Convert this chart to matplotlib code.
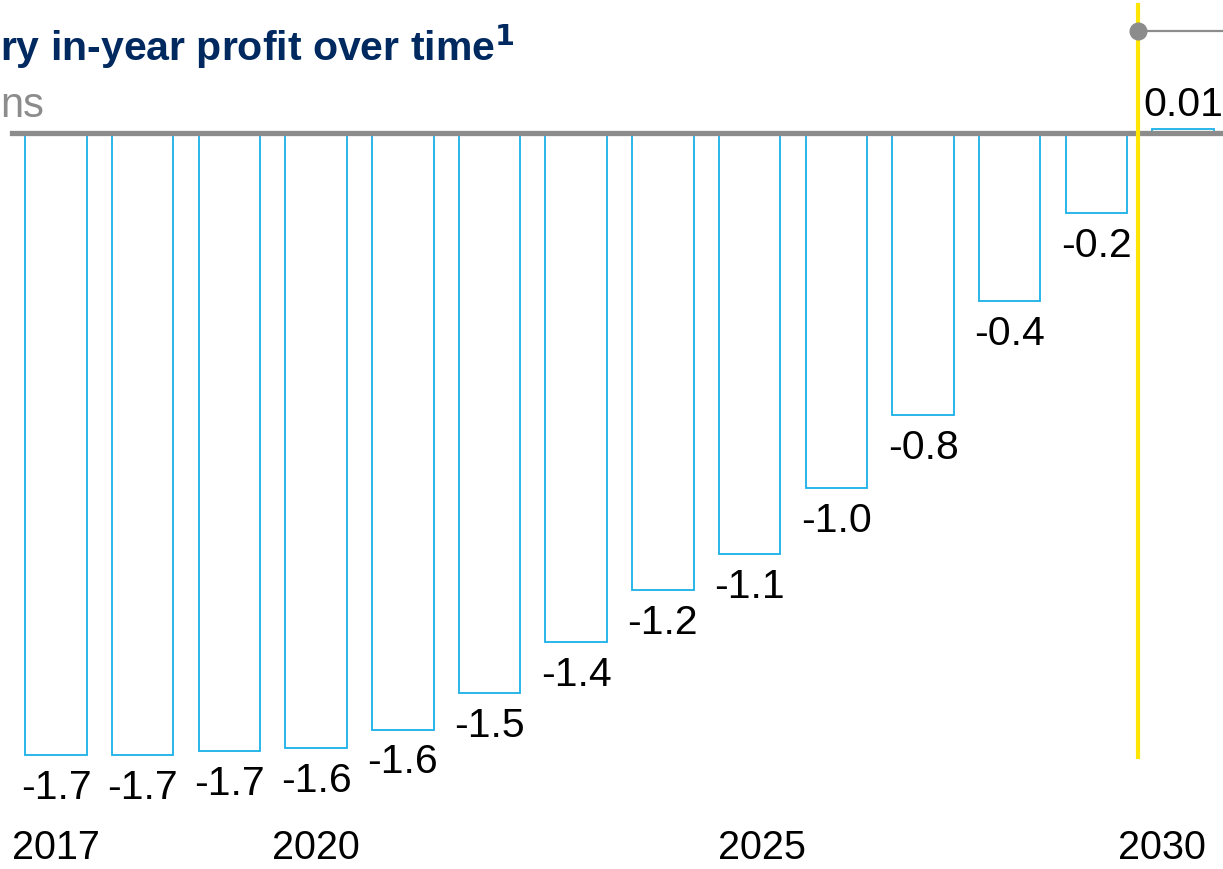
import matplotlib.pyplot as plt
import numpy as np

years = [2017, 2018, 2019, 2020, 2021, 2022, 2023, 2024, 2025, 2026, 2027, 2028, 2029, 2030]
profit = [-1.70, -1.70, -1.69, -1.68, -1.63, -1.53, -1.39, -1.25, -1.15, -0.97, -0.77, -0.46, -0.22, 0.01]
value_labels = ["-1.7", "-1.7", "-1.7", "-1.6", "-1.6", "-1.5", "-1.4", "-1.2", "-1.1", "-1.0",
                "-0.8", "-0.4", "-0.2", "0.01"]
tick_years = [2017, 2020, 2025, 2030]
tick_shift = {2017: 0.0, 2020: 0.0, 2025: 0.14, 2030: -0.25}  # label nudges as in the source

plt.rcParams["font.family"] = ["Liberation Sans", "DejaVu Sans"]

fig = plt.figure(figsize=(12.23, 8.69), dpi=100)
ax = fig.add_axes([0, 0, 1, 1])
ax.set_xlim(2016.354, 2030.46)
ax.set_ylim(-2.011, 0.363)
ax.axis("off")

blue = "#1AB0E8"
ax.bar(years, profit, width=0.71, facecolor="white", edgecolor=blue, linewidth=1.3, zorder=2)

# zero line
ax.axhline(0, xmin=12 / 1223, xmax=1, color="#8C8C8C", linewidth=3.8, zorder=3)

for yr, v, lab in zip(years, profit, value_labels):
    if v < 0:
        ax.annotate(lab, (yr, v), xytext=(0, -10), textcoords="offset points",
                    ha="center", va="top", fontsize=29.5, color="black")
    else:
        ax.annotate(lab, (yr, v), xytext=(0, 4), textcoords="offset points",
                    ha="center", va="bottom", fontsize=29.5, color="black")

for yr in tick_years:
    ax.text(yr + tick_shift[yr], -1.985, str(yr), ha="center", va="baseline",
            fontsize=28.5, color="black")

# forecast marker
ax.plot([2029.48, 2029.48], [-1.705, 0.35], color="#FFE500", linewidth=3, zorder=4)
ax.plot([2029.48, 2030.46], [0.279, 0.279], color="#8C8C8C", linewidth=1.6, zorder=5)
ax.plot([2029.48], [0.279], "o", color="#8C8C8C", markersize=12, zorder=6)

fig.text(0.0, 869 - 61, "ry in-year profit over time$^{\\mathbf{1}}$", transform=None,
         fontsize=29.5, fontweight="bold", color="#002960", ha="left", va="baseline",
         family=["Liberation Sans Narrow", "Liberation Sans", "DejaVu Sans"])
fig.text(0, 869 - 117, "ns", transform=None, fontsize=30, color="#8C8C8C",
         ha="left", va="baseline")

fig.savefig("out.png", dpi=100)
